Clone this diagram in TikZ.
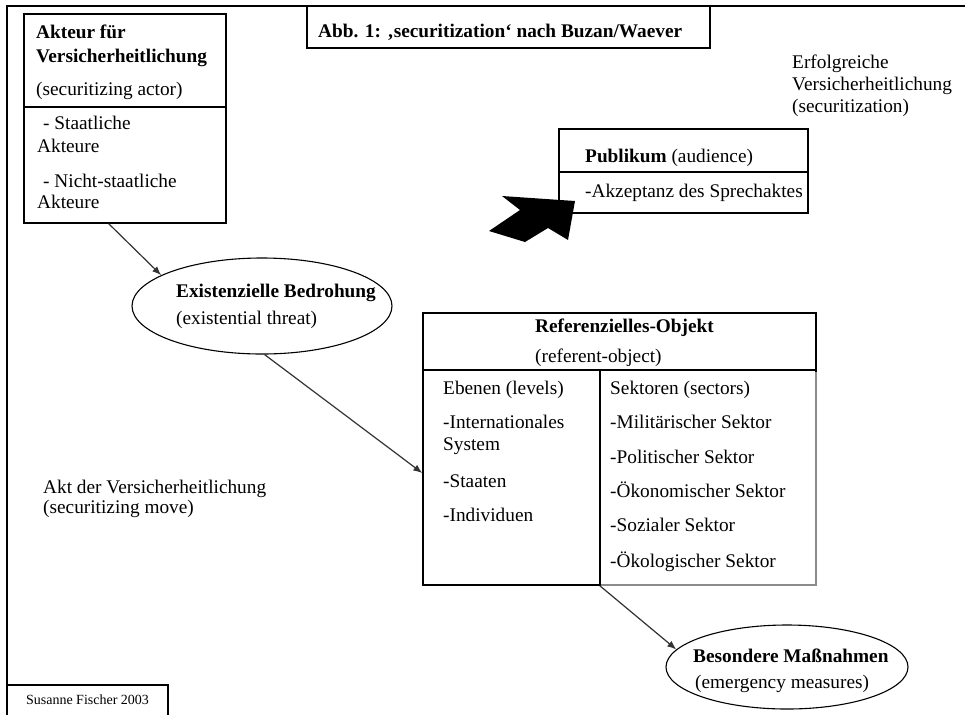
\documentclass[tikz,border=0pt]{standalone}
\usepackage{fontspec}
\setmainfont{Liberation Serif}
\usetikzlibrary{shapes.geometric,arrows.meta,calc}
\begin{document}
\begin{tikzpicture}[x=1pt,y=-1pt,
  txt/.style={anchor=base west,inner sep=0pt,font=\fontsize{19.3}{23}\selectfont},
  btxt/.style={anchor=base west,inner sep=0pt,font=\fontsize{19.3}{23}\selectfont\bfseries},
  box/.style={draw,line width=1.4pt,rectangle,inner sep=0pt},
  oval/.style={draw,line width=1.1pt,ellipse,inner sep=0pt},
  conn/.style={draw=black!80,line width=1.2pt,-{Latex[length=9pt,width=7pt]}},
  divider/.style={line width=1.9pt}
]
\useasboundingbox (0,0) rectangle (965,715);
\fill[white] (0,0) rectangle (965,715);
% outer frame
\draw[line width=1.4pt] (965,6) -- (7,6) -- (7,715);

% title
\node[box,minimum width=403pt,minimum height=42pt] (title) at (508.5,27) {};
\node[btxt] (titletxt) at (318,37) {Abb. 1: ‚securitization‘ nach Buzan/Waever};

% actor box
\node[box,minimum width=202pt,minimum height=209pt] (actor) at (125,118.5) {};
\draw[divider] (24,107) -- (226,107);
\node[btxt] (a1) at (36,38) {Akteur für};
\node[btxt] (a2) at (36,62) {Versicherheitlichung};
\node[txt] (a3) at (36,95) {(securitizing actor)};
\node[txt] (a4) at (43,129) {- Staatliche};
\node[txt] (a5) at (37,152) {Akteure};
\node[txt] (a6) at (43,187) {- Nicht-staatliche};
\node[txt] (a7) at (37,208) {Akteure};

% successful securitization
\node[txt] (e1) at (792,68) {Erfolgreiche};
\node[txt] (e2) at (792,90) {Versicherheitlichung};
\node[txt] (e3) at (792,112) {(securitization)};

% audience
\node[box,minimum width=249pt,minimum height=84pt] (pub) at (683.5,171) {};
\draw[divider] (559,172) -- (808,172);
\node[txt] (p1) at (585,162) {\textbf{Publikum} (audience)};
\node[txt] (p2) at (585,197) {-Akzeptanz des Sprechaktes};

% big black arrow
\fill[black] (502,196) -- (575,201) -- (568,240) -- (548,228) -- (525,242) -- (489,231) -- (520,210) -- cycle;

% existential threat
\node[oval,minimum width=260pt,minimum height=96pt] (ex1) at (262,306) {};
\node[btxt] (x1) at (176,297) {Existenzielle Bedrohung};
\node[txt] (x2) at (176,324) {(existential threat)};

% securitizing move
\node[txt] (m1) at (43,493) {Akt der Versicherheitlichung};
\node[txt] (m2) at (43,513) {(securitizing move)};

% referent object
\node[box,minimum width=393pt,minimum height=272pt] (ref) at (619.5,449) {};
\draw[line width=1.4pt,draw=black!45] (816,372) -- (816,585) -- (601,585);
\draw[divider] (423,370) -- (816,370);
\draw[line width=1.4pt] (600,370) -- (600,585);
\node[btxt] (r1) at (535,332) {Referenzielles-Objekt};
\node[txt] (r2) at (535,362) {(referent-object)};
\node[txt] (l0) at (443,394) {Ebenen (levels)};
\node[txt] (l1) at (443,428) {-Internationales};
\node[txt] (l2) at (443,450) {System};
\node[txt] (l3) at (443,487) {-Staaten};
\node[txt] (l4) at (443,521) {-Individuen};
\node[txt] (s0) at (610,394) {Sektoren (sectors)};
\node[txt] (s1) at (610,428) {-Militärischer Sektor};
\node[txt] (s2) at (610,463) {-Politischer Sektor};
\node[txt] (s3) at (610,497) {-Ökonomischer Sektor};
\node[txt] (s4) at (610,531) {-Sozialer Sektor};
\node[txt] (s5) at (610,567) {-Ökologischer Sektor};

% emergency measures
\node[oval,minimum width=242pt,minimum height=84pt] (ex2) at (787,667) {};
\node[btxt] (b1) at (693,662) {Besondere Maßnahmen};
\node[txt] (b2) at (695,688) {(emergency measures)};

% author
\draw[line width=1.2pt] (7,685) -- (168,685) -- (168,715);
\node[inner sep=0pt,font=\fontsize{14}{16}\selectfont] (author) at (87.5,700) {Susanne Fischer 2003};

% connectors
\draw[conn] ($(actor.south west)!0.42!(actor.south east)$) -- (ex1.163);
\draw[conn] (ex1.-87) -- ($(ref.north west)!0.588!(ref.south west)$);
\draw[conn] ($(ref.south west)!0.45!(ref.south east)$) -- (ex2.171);
\end{tikzpicture}
\end{document}
